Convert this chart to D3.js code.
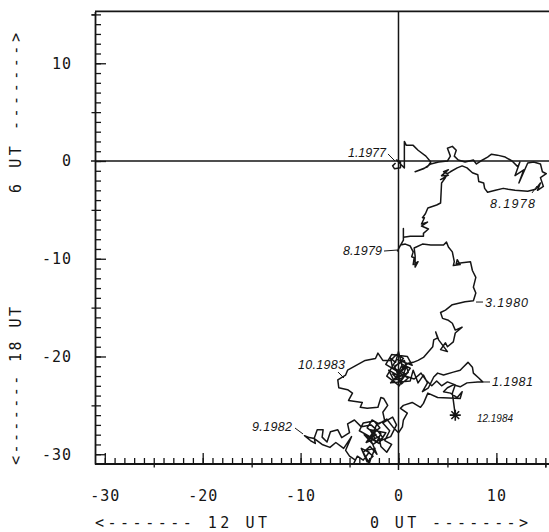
<!DOCTYPE html>
<html><head><meta charset="utf-8">
<script src="https://cdn.jsdelivr.net/npm/d3@7"></script>
<style>body{margin:0;background:#fff}svg{display:block}</style>
</head><body>
<svg id="c" width="549" height="532"></svg>
<script>
// ---- data (harmonic dial walk, units as on the axes) ----
const pathX = [
 -0.3,-0.6,-0.4,0.2,0.2,-0.2,0.3,0.6,0.6,0.8,1.5,2.0,2.8,3.3,2.96,1.7,2.55,3.3,4.1,5.0,5.3,5.0,5.5,5.9,5.7,6.1,6.8,7.65,7.96,8.4,9.1,9.5,10.1,10.9,11.6,12.2,12.4,11.9,12.8,12.3,13.2,13.8,14.5,14.7,15.1,14.5,14.8,14.2,14.5,14.0,13.2,
 11.9,11.2,10.7,9.9,9.1,8.8,8.7,8.2,8.1,7.55,7.0,6.5,6.0,5.3,5.0,4.6,5.1,4.4,5.1,4.3,4.8,4.4,4.3,3.9,3.6,3.0,2.75,2.45,2.65,2.35,2.96,2.35,3.06,2.55,2.55,1.2,0.5,0.5,0.5,0.1,-0.1,
 0.2,0.7,1.2,1.5,1.35,1.6,1.5,2.0,1.7,1.7,1.6,2.45,3.3,4.6,4.9,5.1,5.5,5.7,5.6,6.3,6.0,5.9,6.5,7.35,7.55,7.9,7.65,7.9,7.65,
 6.8,5.5,4.8,4.3,4.5,5.1,5.5,5.8,6.5,5.8,5.6,5.0,4.8,4.3,5.0,4.1,3.8,4.0,3.6,3.5,2.55,2.0,1.5,1.0,0.4,
 0.0,-0.3,-0.8,-0.6,0.2,0.7,-0.1,-1.0,-0.5,0.4,1.0,0.6,-0.4,0.3,1.0,-1.3,-0.7,0.9,1.4,-0.2,-1.2,0.1,0.8,-0.8,1.2,
 1.5,2.0,2.55,2.96,2.45,3.06,3.6,4.0,4.6,5.6,6.3,6.6,7.1,7.55,7.65,8.2,8.6,
 8.1,7.0,6.3,5.6,5.0,4.6,5.3,6.0,6.5,6.3,4.0,3.0,2.55,2.25,1.4,0.5,0.2,0.9,0.5,0.4,0.0,-0.5,
 -1.2,-2.0,-2.7,-3.2,-2.3,-3.0,-2.2,-1.6,-2.6,-3.5,-2.0,-1.3,-2.9,-2.4,-3.3,-2.7,-1.9,-2.5,-3.6,-4.0,-3.1,-2.2,-1.8,-2.8,-3.8,-4.5,-5.2,-5.0,-5.8,
 -6.2,-6.95,-7.3,-7.8,-7.7,-8.3,-8.6,-8.5,-9.0,-9.6,-9.1,-8.6,
 -7.8,-7.0,-6.4,-5.6,-4.8,-5.4,-5.0,-4.4,-4.6,-4.2,-3.6,-3.0,-3.8,-3.2,-2.6,-3.3,-2.4,-3.0,-3.6,-2.9,-2.2,-2.8,-2.0,-1.8,-1.2,-0.7,-1.4,-0.9,-1.6,
 -0.6,-0.2,-0.8,-1.8,-2.6,-2.2,-1.4,-1.6,
 -1.1,-1.5,-1.8,-2.1,-3.2,-3.9,-3.7,-5.1,-4.7,-5.2,-6.1,-6.2,-5.4,-5.2,-3.4,-2.35,-2.1,-1.6,-0.8,
 -0.2,0.5,-0.5,0.8,-0.3,0.4,1.2,0.2,-0.6,0.7,
 1.6,2.3,2.8,3.4,3.9,4.4,5.0,5.8,5.5,5.6,5.8
];
const pathY = [
 -0.2,-0.5,-0.8,-0.7,-0.1,0.1,-0.4,-0.7,2.0,1.6,1.6,1.1,0.5,-0.1,-0.6,-1.1,-0.8,-0.3,-0.1,0.0,0.5,1.3,1.5,1.1,0.5,0.1,-0.1,0.1,-0.3,0.0,0.4,0.7,0.6,0.4,0.0,-0.6,-0.1,-1.5,-0.9,-2.25,-0.2,-0.1,-0.3,-1.1,-1.3,-1.7,-2.6,-3.0,-2.25,-2.9,-3.1,
 -3.0,-2.9,-2.8,-3.0,-3.2,-2.8,-2.25,-2.1,-1.4,-1.2,-0.7,-0.5,-0.7,-1.1,-1.3,-1.1,-0.9,-1.5,-1.45,-1.9,-1.7,-2.25,-4.3,-4.5,-4.6,-4.8,-5.4,-5.8,-5.8,-6.45,-6.25,-6.65,-6.96,-7.4,-7.7,-7.7,-7.8,-6.9,-8.1,-8.8,-9.2,
 -8.6,-8.5,-8.7,-9.3,-9.8,-9.9,-10.6,-10.3,-10.85,-9.7,-8.9,-8.5,-8.6,-8.6,-8.3,-8.8,-9.3,-10.3,-10.7,-10.6,-10.1,-10.5,-10.4,-10.3,-11.2,-11.9,-12.9,-13.5,-14.3,
 -14.4,-14.7,-15.25,-15.5,-16.1,-16.3,-16.6,-17.3,-17.0,-17.6,-18.5,-19.0,-18.6,-19.3,-19.5,-18.3,-17.5,-18.1,-18.3,-19.0,-20.1,-20.4,-20.6,-20.7,-21.1,
 -19.5,-20.6,-20.2,-21.2,-21.6,-20.9,-21.9,-21.4,-22.4,-22.2,-21.6,-20.4,-21.0,-22.8,-22.2,-20.8,-19.8,-20.0,-20.9,-20.3,-22.0,-23.0,-21.0,-22.7,-22.5,
 -21.4,-22.7,-21.9,-22.7,-23.6,-23.2,-22.1,-21.7,-21.9,-21.6,-21.4,-21.1,-20.6,-21.1,-21.7,-22.2,-22.6,
 -22.6,-22.7,-23.1,-22.9,-23.2,-23.6,-23.75,-24.2,-23.6,-24.3,-24.2,-23.75,-24.8,-25.2,-24.7,-25.0,-25.3,-25.8,-26.5,-27.2,-27.8,-27.3,
 -26.4,-26.9,-26.5,-27.3,-28.0,-28.5,-27.5,-28.3,-29.0,-28.0,-28.9,-27.8,-27.5,-28.4,-28.8,-27.9,-27.3,-26.6,-26.8,-27.6,-28.1,-28.7,-27.9,-27.0,-27.2,-26.5,-26.9,-27.8,-28.3,
 -27.5,-27.7,-28.75,-28.25,-27.5,-27.5,-28.35,-28.9,-28.6,-28.1,-28.3,-28.4,
 -29.0,-29.3,-28.8,-29.4,-28.2,-29.6,-30.2,-30.6,-31.0,-30.2,-30.6,-29.8,-29.4,-30.8,-30.2,-29.6,-29.4,-30.9,-29.8,-29.2,-30.0,-28.6,-28.2,-29.2,-29.8,-29.0,-28.6,-27.6,-26.8,
 -26.2,-27.0,-28.2,-28.6,-27.8,-26.9,-26.6,-25.7,
 -25.0,-24.3,-24.2,-25.2,-25.3,-25.2,-24.7,-24.5,-23.75,-23.4,-23.2,-22.4,-21.9,-21.4,-20.4,-20.2,-19.65,-20.4,-20.4,
 -19.8,-20.2,-21.2,-21.8,-22.2,-20.8,-21.2,-22.6,-21.8,-22.0,
 -22.3,-21.7,-22.4,-23.0,-22.5,-23.0,-22.6,-22.9,-23.75,-24.5,-26.0
];
const endMarkX = [5.8];
const endMarkY = [-26.0];

// date annotations (label position, leader line) in axis units
const annText   = ["1.1977","8.1978","8.1979","3.1980","10.1983","1.1981","12.1984","9.1982"];
const annX      = [-5.16, 9.35, -5.67, 8.84, -10.27, 9.55, 8.02, -14.96];
const annY      = [0.41, -4.81, -9.62, -14.94, -21.28, -23.02, -26.70, -27.62];
const leadX1    = [-1.07, 13.64, -1.48, 7.92, -6.18, 8.63, null, -10.57];
const leadY1    = [0.72, -3.27, -9.21, -14.43, -21.59, -22.61, null, -27.32];
const leadX2    = [-0.36, 14.15, -0.15, 8.63, -5.57, 9.35, null, -9.75];
const leadY2    = [0.0, -2.56, -9.11, -14.43, -22.2, -22.61, null, -27.93];

const xTickValues = [-30,-20,-10,0,10];
const yTickValues = [10,0,-10,-20,-30];
const xTitleLeft  = "<------- 12 UT";
const xTitleRight = "0 UT ------->";
const yTitleLow   = "<------- 18 UT";
const yTitleHigh  = "6 UT ------->";

// ---- styles ----
const INK = "#151515";
const annWidths = {"1.1977":38,"8.1978":45,"8.1979":39,"3.1980":43,"10.1983":47,"1.1981":41,"12.1984":36,"9.1982":40};

const svg = d3.select("#c");
const x = d3.scaleLinear().domain([-31, 15.5]).range([95, 95 + 46.5 * 9.79]);
const y = d3.scaleLinear().domain([-31, 15.3]).range([464, 464 - 46.3 * 9.774]);
const X0 = x.range()[0], XR = 549, YB = y.range()[0], YT = y.range()[1];

const ints = d3.range(-30, 16);
const fives = ints.filter(v => v % 5 === 0 && v % 10 !== 0);

// frame
svg.append("line").attr("x1", X0).attr("x2", XR).attr("y1", YT).attr("y2", YT)
  .attr("stroke", INK).attr("stroke-width", 1.8);

// zero lines
svg.append("line").attr("x1", X0 - 4).attr("x2", XR).attr("y1", y(0)).attr("y2", y(0))
  .attr("stroke", INK).attr("stroke-width", 1.5);
svg.append("line").attr("x1", x(0)).attr("x2", x(0)).attr("y1", YT).attr("y2", YB + 6)
  .attr("stroke", INK).attr("stroke-width", 1.5);

function styleAxis(g) {
  g.selectAll("path.domain").attr("stroke", INK).attr("stroke-width", 1.8);
  g.selectAll(".tick line").attr("stroke", INK).attr("stroke-width", 1.3);
  g.selectAll(".tick text").attr("fill", INK)
    .attr("font-family", "DejaVu Sans Mono, monospace").attr("font-size", 15)
    .attr("letter-spacing", "1px");
}

// left axis: minor and ten ticks (inward), five cross ticks (outward)
const gl = svg.append("g").attr("transform", `translate(${X0},0)`);
gl.append("g").call(d3.axisLeft(y).tickValues(ints).tickSize(-6).tickFormat("").tickSizeOuter(0)).call(styleAxis);
gl.append("g").call(d3.axisLeft(y).tickValues(fives.concat([15])).tickSize(3.5).tickFormat("").tickSizeOuter(0)).call(styleAxis)
  .select("path.domain").remove();
gl.append("g").call(d3.axisLeft(y).tickValues(yTickValues).tickSize(-11).tickPadding(23).tickFormat(d => String(d)).tickSizeOuter(0))
  .call(styleAxis).select("path.domain").remove();

// bottom axis
const gb = svg.append("g").attr("transform", `translate(0,${YB})`);
gb.append("g").call(d3.axisBottom(x).tickValues(ints).tickSize(-6).tickFormat("").tickSizeOuter(0)).call(styleAxis);
gb.select("path.domain").attr("d", `M${X0},0H${XR}`);
gb.append("g").call(d3.axisBottom(x).tickValues(fives.concat([15])).tickSize(3.5).tickFormat("").tickSizeOuter(0)).call(styleAxis)
  .select("path.domain").remove();
gb.append("g").call(d3.axisBottom(x).tickValues(xTickValues).tickSize(-11).tickPadding(26).tickFormat(d => String(d)).tickSizeOuter(0))
  .call(styleAxis).select("path.domain").remove();

// axis titles
const titleFont = "DejaVu Sans Mono, monospace";
svg.append("text").attr("x", 95).attr("y", 528).attr("textLength", 172).attr("lengthAdjust", "spacing")
  .attr("font-family", titleFont).attr("font-size", 15).attr("fill", INK).text(xTitleLeft);
svg.append("text").attr("x", 370).attr("y", 528).attr("textLength", 158).attr("lengthAdjust", "spacing")
  .attr("font-family", titleFont).attr("font-size", 15).attr("fill", INK).text(xTitleRight);
svg.append("text").attr("transform", "translate(21,465) rotate(-90)").attr("textLength", 158).attr("lengthAdjust", "spacing")
  .attr("font-family", titleFont).attr("font-size", 15).attr("fill", INK).text(yTitleLow);
svg.append("text").attr("transform", "translate(21,193) rotate(-90)").attr("textLength", 160).attr("lengthAdjust", "spacing")
  .attr("font-family", titleFont).attr("font-size", 15).attr("fill", INK).text(yTitleHigh);

// the walk
const pts = pathX.map((v, i) => [v, pathY[i]]);
svg.append("path").datum(pts)
  .attr("d", d3.line().x(d => x(d[0])).y(d => y(d[1])))
  .attr("fill", "none").attr("stroke", INK).attr("stroke-width", 1.5).attr("stroke-linejoin", "round");

// end marker (asterisk)
const star = (r) => d3.range(4).map(k => {
  const a = k * Math.PI / 4;
  return `M${(-r*Math.cos(a)).toFixed(2)},${(-r*Math.sin(a)).toFixed(2)}L${(r*Math.cos(a)).toFixed(2)},${(r*Math.sin(a)).toFixed(2)}`;
}).join("");
svg.selectAll("path.mark").data(endMarkX).join("path").attr("class", "mark")
  .attr("transform", (d, i) => `translate(${x(d)},${y(endMarkY[i])})`)
  .attr("d", star(5.5)).attr("stroke", INK).attr("stroke-width", 1.6).attr("fill", "none");

// annotations
annText.forEach((t, i) => {
  svg.append("text").attr("x", x(annX[i])).attr("y", y(annY[i]))
    .attr("font-family", "Liberation Sans, Arial, sans-serif").attr("font-style", "italic")
    .attr("font-size", t === "12.1984" ? 10 : 12.5).attr("fill", INK)
    .attr("textLength", annWidths[t]).attr("lengthAdjust", "spacing").text(t);
  if (leadX1[i] !== null) {
    svg.append("line").attr("x1", x(leadX1[i])).attr("y1", y(leadY1[i]))
      .attr("x2", x(leadX2[i])).attr("y2", y(leadY2[i]))
      .attr("stroke", INK).attr("stroke-width", 1);
  }
});
</script>
</body></html>
